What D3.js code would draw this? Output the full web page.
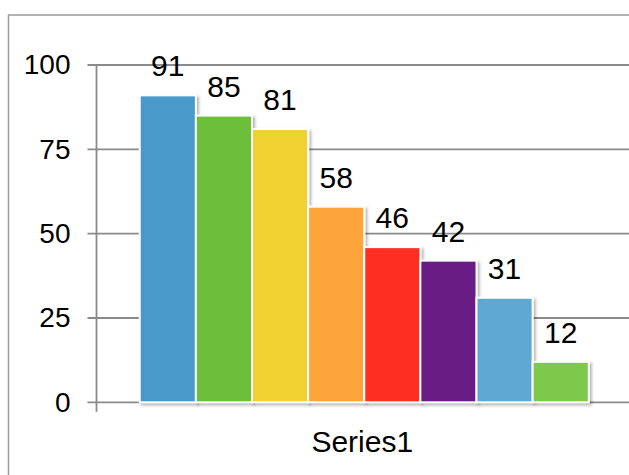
<!DOCTYPE html>
<html>
<head>
<meta charset="utf-8">
<script src="https://cdnjs.cloudflare.com/ajax/libs/d3/7.8.5/d3.min.js"></script>
<style>
	html, body { margin: 0; padding: 0; background: #fff; }
	svg { display: block; font-family: "Liberation Sans", Arial, sans-serif; }
</style>
</head>
<body>
<svg id="chart" width="629" height="475"></svg>
<script>
'use strict';

// chart data
var categories = ["Series1"];
var items = ["A", "B", "C", "D", "E", "F", "G", "H"];
var values = [91, 85, 81, 58, 46, 42, 31, 12];
var barColors = ["#4a9acb", "#6dbf3a", "#f1d032", "#fda53b", "#ff2d24", "#6a1f85", "#5fa8d3", "#7ec84c"];
var yTicks = [0, 25, 50, 75, 100];

var WIDTH = 629;
var HEIGHT = 475;

var PLOT_LEFT = 96.5;
var PLOT_RIGHT = 632;
var PLOT_TOP = 65;
var PLOT_BOTTOM = 402.3;

var AXIS_COLOR = "#8a8a8a";

var svg = d3.select("#chart");

// drop shadow for bars
var defs = svg.append("defs");
var shadow = defs.append("filter")
	.attr("id", "barShadow")
	.attr("x", "-10%")
	.attr("y", "-10%")
	.attr("width", "130%")
	.attr("height", "130%");
shadow.append("feDropShadow")
	.attr("dx", 2)
	.attr("dy", 2)
	.attr("stdDeviation", 1.5)
	.attr("flood-color", "#000")
	.attr("flood-opacity", 0.3);

// outer chart border (runs off the right and bottom)
svg.append("rect")
	.attr("x", 8.5)
	.attr("y", 15)
	.attr("width", WIDTH + 20)
	.attr("height", HEIGHT + 20)
	.style("fill", "none")
	.style("stroke", "#9a9a9a")
	.style("stroke-width", 1.5);

var y = d3.scaleLinear()
	.domain([0, 100])
	.range([PLOT_BOTTOM, PLOT_TOP]);

var x0 = d3.scaleBand()
	.domain(categories)
	.range([PLOT_LEFT, PLOT_RIGHT])
	.paddingOuter(0.0963)
	.paddingInner(0);

var x1 = d3.scaleBand()
	.domain(items)
	.range([0, x0.bandwidth()])
	.padding(0);

// gridlines + left ticks
svg.append("g")
	.selectAll("line.grid")
	.data(yTicks)
	.enter()
	.append("line")
	.classed("grid", 1)
	.attr("x1", PLOT_LEFT - 9)
	.attr("x2", PLOT_RIGHT)
	.attr("y1", function (d) { return y(d); })
	.attr("y2", function (d) { return y(d); })
	.style("stroke", AXIS_COLOR)
	.style("stroke-width", 1.8);

// y axis line
svg.append("line")
	.attr("x1", PLOT_LEFT)
	.attr("x2", PLOT_LEFT)
	.attr("y1", PLOT_TOP)
	.attr("y2", PLOT_BOTTOM + 9.5)
	.style("stroke", AXIS_COLOR)
	.style("stroke-width", 1.8);

// y tick labels
var yAxis = d3.axisLeft(y)
	.tickValues(yTicks)
	.tickSize(0)
	.tickPadding(26);

var yAxisG = svg.append("g")
	.attr("transform", "translate(" + PLOT_LEFT + ",0)")
	.call(yAxis);
yAxisG.select(".domain").remove();
yAxisG.selectAll("text")
	.style("font-family", "'Liberation Sans', Arial, sans-serif")
	.style("font-size", "28px")
	.style("fill", "#000");

// bars
var group = svg.append("g")
	.selectAll("g.cat")
	.data(categories)
	.enter()
	.append("g")
	.classed("cat", 1)
	.attr("transform", function (d) { return "translate(" + x0(d) + ",0)"; });

var barData = items.map(function (k, i) {
	return { key: k, value: values[i], color: barColors[i] };
});

group.selectAll("rect.bar")
	.data(barData)
	.enter()
	.append("rect")
	.classed("bar", 1)
	.attr("x", function (d) { return x1(d.key); })
	.attr("y", function (d) { return y(d.value); })
	.attr("width", x1.bandwidth())
	.attr("height", function (d) { return y(0) - y(d.value); })
	.style("fill", function (d) { return d.color; })
	.style("stroke", "#fff")
	.style("stroke-width", 2)
	.attr("filter", "url(#barShadow)");

// data labels
group.selectAll("text.label")
	.data(barData)
	.enter()
	.append("text")
	.classed("label", 1)
	.attr("x", function (d) { return x1(d.key) + x1.bandwidth() / 2; })
	.attr("y", function (d) { return y(d.value) - 19; })
	.attr("text-anchor", "middle")
	.style("font-size", "30px")
	.style("fill", "#000")
	.text(function (d) { return d.value; });

// category label
svg.append("g")
	.selectAll("text.cat-label")
	.data(categories)
	.enter()
	.append("text")
	.classed("cat-label", 1)
	.attr("x", function (d) { return x0(d) + x0.bandwidth() / 2 - 2; })
	.attr("y", 451.5)
	.attr("text-anchor", "middle")
	.style("font-size", "30px")
	.style("fill", "#000")
	.text(function (d) { return d; });
</script>
</body>
</html>
